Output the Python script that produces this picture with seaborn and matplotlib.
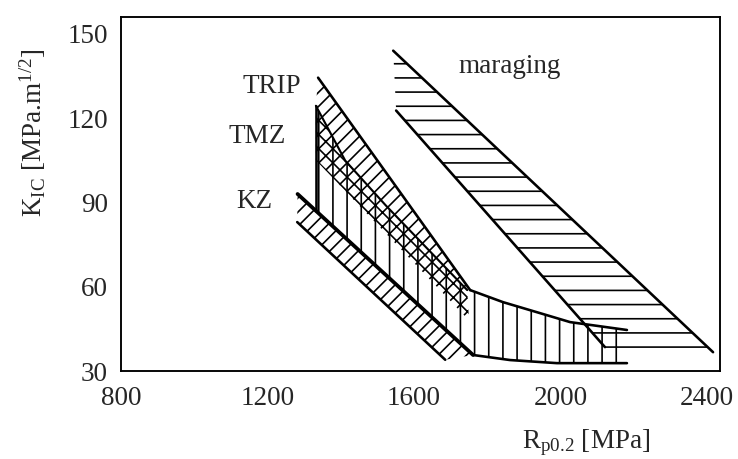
import matplotlib
matplotlib.use("Agg")
import matplotlib.pyplot as plt
import numpy as np
import seaborn as sns

# band edges: yield strength [MPa] vs K_IC
trip_upper_x = [1338, 1753]
trip_upper_y = [134.4, 58.8]
trip_lower_x = [1332, 1412, 1523, 1745]
trip_lower_y = [124.4, 104.9, 88.9, 58.8]

tmz_mid_x = [1332, 1750]
tmz_mid_y = [105.0, 48.0]
arc_upper_x = [1753, 1843, 1936, 2026, 2181]
arc_upper_y = [58.8, 54.5, 50.9, 47.4, 44.6]
arc_lower_x = [1761, 1862, 1990, 2181]
arc_lower_y = [35.7, 33.9, 32.8, 32.8]

kz_upper_x = [1282, 1761]
kz_upper_y = [93.0, 35.7]
kz_lower_x = [1281, 1685]
kz_lower_y = [83.0, 34.0]

mar_upper_x = [1543, 2416]
mar_upper_y = [144.0, 36.7]
mar_lower_x = [1551, 2121]
mar_lower_y = [122.7, 38.5]
mar_bottom = 36.7

labels = ["TRIP", "TMZ", "KZ", "maraging"]
label_x = [1212, 1171, 1163, 1862]
label_y = [129.0, 111.0, 87.9, 136.1]

x_ticks = [800, 1200, 1600, 2000, 2400]
y_ticks = [30, 60, 90, 120, 150]

sns.set_theme(style="white", rc={"axes.edgecolor": "black", "axes.linewidth": 1.6})
plt.rcParams["font.family"] = ["Liberation Serif", "DejaVu Serif"]
plt.rcParams["mathtext.fontset"] = "custom"
plt.rcParams["mathtext.rm"] = "Liberation Serif"
plt.rcParams["mathtext.it"] = "Liberation Serif:italic"
plt.rcParams["hatch.linewidth"] = 1.4

fig = plt.figure(figsize=(739 / 85, 459 / 85), dpi=85)
ax = fig.add_axes([0.1637, 0.1917, 0.8106, 0.7713])


def band(ax, xs, ys, hatch):
    ax.fill(xs, ys, facecolor="none", edgecolor="black", linewidth=0, hatch=hatch)


# maraging
mx = mar_upper_x + [mar_lower_x[-1]] + mar_lower_x[::-1]
my = mar_upper_y + [mar_bottom] + mar_lower_y[::-1]
band(ax, mx, my, "-")

# TRIP
band(ax, trip_upper_x + trip_lower_x[::-1], trip_upper_y + trip_lower_y[::-1], "//")

# TMZ (vertical hatch) and its cross-hatched upper part
kz_left = float(np.interp(trip_lower_x[0], kz_upper_x, kz_upper_y))
tx = trip_lower_x + arc_upper_x + arc_lower_x[::-1] + [trip_lower_x[0]]
ty = trip_lower_y + arc_upper_y + arc_lower_y[::-1] + [kz_left]
band(ax, tx, ty, "|")
band(ax, trip_lower_x + tmz_mid_x[::-1], trip_lower_y + tmz_mid_y[::-1], "xx")

# KZ
band(ax, kz_lower_x + kz_upper_x[::-1], kz_lower_y + kz_upper_y[::-1], "//")

edges = [
    (mar_upper_x, mar_upper_y, 2.2),
    (mar_lower_x, mar_lower_y, 2.2),
    (trip_upper_x, trip_upper_y, 2.2),
    (trip_lower_x, trip_lower_y, 1.8),
    (arc_upper_x, arc_upper_y, 2.2),
    (arc_lower_x, arc_lower_y, 2.2),
    (kz_upper_x, kz_upper_y, 3.2),
    (kz_lower_x, kz_lower_y, 2.2),
    ([trip_lower_x[0], trip_lower_x[0]], [trip_lower_y[0], kz_left], 2.2),
]
for ex, ey, lw in edges:
    sns.lineplot(x=ex, y=ey, ax=ax, color="black", linewidth=lw,
                 sort=False, estimator=None)

for txt, lx, ly in zip(labels, label_x, label_y):
    ax.text(lx, ly, txt, ha="center", va="baseline", fontsize=23)

ax.set_xlim(800, 2435)
ax.set_ylim(30, 156)
ax.set_xticks(x_ticks)
ax.set_yticks(y_ticks)
ax.tick_params(length=0, labelsize=23)
ax.tick_params(axis="y", pad=11)
ax.tick_params(axis="x", pad=13)
ax.set_xlabel(r"R$_{\mathrm{p0.2}}$ [MPa]", fontsize=23)
ax.set_ylabel(r"K$_{\mathrm{IC}}$ [MPa.m$^{\mathrm{1/2}}$]", fontsize=23)
ax.xaxis.set_label_coords(0.776, -0.158)
ax.yaxis.set_label_coords(-0.122, 0.672)

fig.savefig("out.png", dpi=85)
